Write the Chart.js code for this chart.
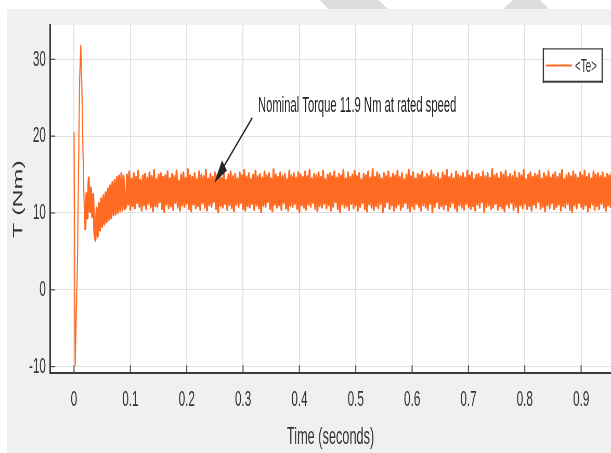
<!DOCTYPE html>
<html>
<head>
<meta charset="utf-8">
<title>Electromagnetic torque</title>
<script src="https://cdn.jsdelivr.net/npm/chart.js@4/dist/chart.umd.min.js"></script>
<style>
  html, body { margin: 0; padding: 0; width: 611px; height: 453px; overflow: hidden; background: #ffffff; }
  #frame { position: absolute; left: 7px; top: 9px; width: 604px; height: 444px; background: #f0f0f0; }
  .shade { position: absolute; top: 0; height: 9px; background: #dcdcdc; }
  #shadeA { left: 320px; width: 68px; clip-path: polygon(0 0, 58px 0, 68px 9px, 8px 9px); }
  #shadeB { left: 503px; width: 46px; clip-path: polygon(10px 0, 37px 0, 46px 9px, 0 9px); }
  /* the figure is drawn on a wide canvas and squeezed horizontally */
  #wrap { position: absolute; left: 0; top: 0; width: 1175px; height: 453px; transform: scaleX(0.52); transform-origin: 0 0; }
  canvas { display: block; }
</style>
</head>
<body>
<div id="frame"></div>
<div class="shade" id="shadeA"></div>
<div class="shade" id="shadeB"></div>
<div id="wrap"><canvas id="c" width="1175" height="453"></canvas></div>
<script>
// Electromagnetic torque Te of the motor, sampled every 2 ms from t = 0
const sampleStep = 0.002; // seconds
const seriesLabel = '<Te>';
const nominalTorque = 11.9; // Nm

const teStartup = [
  20.5, -9.8, -3.0, 3.2, 16.0, 27.5, 31.8, 26.0, 17.5, 11.0,
  7.8, 12.5, 9.4, 14.5, 10.2, 13.2, 9.6, 12.4, 7.4, 6.5,
  10.6, 7.0, 11.2, 7.8, 11.8, 8.3, 12.2, 8.6, 12.6, 8.9,
  13.1, 9.2, 13.5, 9.4, 13.9, 9.8, 14.2, 9.9, 14.6, 10.1,
  14.8, 10.3, 15.1, 10.4, 14.7, 10.6
];

const teSteady = [
  10.8,14.9,11.2,15.3,10.5,14.4,11.0,15.1,10.7,14.6,11.4,15.4,10.9,14.2,10.4,14.8,11.1,15.0,10.6,14.5,
  11.3,15.2,10.8,14.7,10.3,15.5,11.0,14.3,10.9,14.9,11.5,15.1,10.6,14.6,10.2,14.8,11.2,15.3,10.7,14.4,
  11.0,15.0,10.5,14.7,11.4,15.4,10.8,14.1,10.4,14.9,11.1,15.2,10.9,14.5,11.3,15.6,10.6,14.8,10.3,14.6,
  11.2,15.1,10.7,14.3,11.0,15.3,10.5,14.9,11.4,14.7,10.8,15.5,10.4,14.4,11.1,15.0,10.9,14.6,11.5,15.2,
  10.6,14.8,10.2,15.4,11.0,14.5,10.8,15.1,11.3,14.2,10.5,14.9,11.1,15.3,10.7,14.7,10.3,15.0,11.2,14.4,
  10.9,15.2,11.4,14.8,10.6,15.5,10.4,14.6,11.0,15.1,10.8,14.3,11.3,14.9,10.5,15.4,11.1,14.7,10.7,15.0,
  10.2,14.5,11.0,15.3,10.9,14.8,11.5,15.1,10.6,14.4,10.3,15.6,11.2,14.9,10.8,14.6,11.1,15.2,10.5,14.7,
  11.4,15.0,10.7,14.3,10.4,15.4,11.0,14.8,10.9,15.1,11.3,14.5,10.6,15.2,10.2,14.9,11.1,14.6,10.8,15.3,
  10.5,14.7,11.2,15.5,10.9,14.4,11.4,15.0,10.6,14.8,10.3,15.2,11.0,14.6,10.8,15.4,11.3,14.3,10.7,14.9,
  11.1,15.1,10.4,14.7,10.9,15.3,11.5,14.5,10.6,15.0,10.2,14.8,11.2,15.5,10.8,14.4,11.0,15.2,10.5,14.6,
  11.3,14.9,10.7,15.4,11.1,14.7,10.4,15.1,10.9,14.3,11.4,15.0,10.6,14.8,10.3,15.3,11.2,14.5,10.8,15.6,
  10.5,14.6,11.0,15.2,10.7,14.9,11.3,14.4,10.2,15.1,10.9,14.7,11.5,15.3,10.6,14.5,11.1,15.0,10.4,14.8,
  10.8,15.4,11.2,14.6,10.5,15.1,10.9,14.3,11.4,14.9,10.7,15.5,10.3,14.7,11.0,15.2,10.6,14.4,11.3,15.0,
  10.9,14.8,10.4,15.3,11.1,14.5,10.8,15.0,10.5,14.7,11.3,15.4,10.2,14.9,10.9,14.6,11.5,15.1,10.7,14.3,
  11.0,15.2,10.6,14.8,11.2,15.5,10.4,14.6,10.9,15.0,11.4,14.4,10.7,15.3,10.3,14.9,11.1,14.7,10.8,15.1,
  10.5,14.5,11.3,15.4,10.9,14.8,10.6,15.2,11.0,14.3,10.4,14.9,11.2,15.0,10.8,14.6,11.5,15.3,10.2,14.7,
  10.9,15.1,11.1,14.5,10.6,15.6,10.8,14.8,11.3,15.0,10.5,14.4,11.0,15.2,10.7,14.9,10.3,15.4,11.2,14.6,
  10.8,15.0,11.4,14.7,10.5,15.3,10.9,14.5,10.2,15.1,11.1,14.8,10.7,15.5,11.3,14.3,10.6,14.9,11.0,15.2,
  10.4,14.6,11.2,15.0,10.8,14.8,11.5,15.4,10.6,14.4,10.9,15.1,10.3,14.7,11.1,15.3,10.7,14.5,11.4,14.9,
  10.6,15.2,10.9,14.6,11.2,15.0,10.4,15.5,11.0,14.3,10.8,14.8,11.3,15.1,10.5,14.7,10.2,15.3,11.1,14.9,
  10.7,14.5,11.4,15.2,10.9,14.8,10.6,15.4,11.1,14.6,10.3,15.0,10.8,14.4,11.2,15.3,10.5,14.9,11.0,15.1,
  10.6,14.7,11.3,15.2,10.8,14.5,10.4,15.0,11.1,14.8,10.9,15.3
];

const xTicks = [0, 0.1, 0.2, 0.3, 0.4, 0.5, 0.6, 0.7, 0.8, 0.9];
const yTicks = [-10, 0, 10, 20, 30];

const teValues = teStartup.concat(teSteady);
const points = teValues.map((v, i) => ({ x: +(i * sampleStep).toFixed(3), y: v }));

const FONT = "'Liberation Sans', Arial, Helvetica, sans-serif";
const TEXT = '#333333';
const ORANGE = '#ff6a22';

// white plotting area
const plotBackground = {
  id: 'plotBackground',
  beforeDraw(chart) {
    const { ctx, chartArea: a } = chart;
    ctx.save();
    ctx.fillStyle = '#ffffff';
    ctx.fillRect(a.left, a.top, a.right - a.left, a.bottom - a.top);
    ctx.restore();
  }
};

// short tick marks pointing into the plot
const innerTicks = {
  id: 'innerTicks',
  beforeDatasetsDraw(chart) {
    const { ctx, chartArea: a, scales: { x, y } } = chart;
    ctx.save();
    ctx.strokeStyle = '#4a4a4a';
    ctx.lineWidth = 2;
    x.ticks.forEach(t => {
      const px = x.getPixelForValue(t.value);
      ctx.beginPath(); ctx.moveTo(px, a.bottom); ctx.lineTo(px, a.bottom - 8); ctx.stroke();
    });
    ctx.lineWidth = 1.2;
    y.ticks.forEach(t => {
      const py = y.getPixelForValue(t.value);
      ctx.beginPath(); ctx.moveTo(a.left, py); ctx.lineTo(a.left + 10, py); ctx.stroke();
    });
    ctx.restore();
  }
};

// text note with an arrow pointing at the steady-state torque
const torqueNote = {
  id: 'torqueNote',
  afterDatasetsDraw(chart, args, o) {
    const { ctx, scales: { x, y } } = chart;
    ctx.save();
    ctx.fillStyle = o.color;
    ctx.strokeStyle = o.color;
    ctx.font = o.font;
    ctx.textAlign = 'left';
    ctx.textBaseline = 'alphabetic';
    ctx.fillText(o.text, x.getPixelForValue(o.textAt.x), y.getPixelForValue(o.textAt.y));
    const x0 = x.getPixelForValue(o.from.x), y0 = y.getPixelForValue(o.from.y);
    const x1 = x.getPixelForValue(o.to.x), y1 = y.getPixelForValue(o.to.y);
    const ang = Math.atan2(y1 - y0, x1 - x0);
    const c = Math.cos(ang), s = Math.sin(ang);
    ctx.lineWidth = 2.2;
    ctx.beginPath();
    ctx.moveTo(x0, y0);
    ctx.lineTo(x1 - c * o.head * 0.7, y1 - s * o.head * 0.7);
    ctx.stroke();
    ctx.beginPath();
    ctx.moveTo(x1, y1);
    ctx.lineTo(x1 - c * o.head - s * o.halfWidth, y1 - s * o.head + c * o.halfWidth);
    ctx.lineTo(x1 - c * o.head + s * o.halfWidth, y1 - s * o.head - c * o.halfWidth);
    ctx.closePath();
    ctx.fill();
    ctx.restore();
  }
};

// boxed legend in the upper right corner of the plot
const cornerLegend = {
  id: 'cornerLegend',
  afterDraw(chart, args, o) {
    const { ctx, chartArea: a } = chart;
    const ds = chart.data.datasets[0];
    const right = a.right - o.right, left = right - o.width;
    const top = a.top + o.top, bottom = top + o.height;
    ctx.save();
    ctx.fillStyle = '#ffffff';
    ctx.fillRect(left, top, right - left, bottom - top);
    ctx.fillStyle = '#3a3a3a';
    ctx.fillRect(left, top, right - left, 1.2);
    ctx.fillRect(left, bottom - 2, right - left, 2);
    ctx.fillRect(left, top, 2.4, bottom - top);
    ctx.fillRect(right - 2.4, top, 2.4, bottom - top);
    const midY = (top + bottom) / 2;
    ctx.strokeStyle = ds.borderColor;
    ctx.lineWidth = 2;
    ctx.beginPath(); ctx.moveTo(left + 6, midY); ctx.lineTo(left + 56, midY); ctx.stroke();
    ctx.fillStyle = TEXT;
    ctx.font = o.font;
    ctx.textAlign = 'left';
    ctx.textBaseline = 'middle';
    ctx.fillText(ds.label, left + 62, midY + 1);
    ctx.restore();
  }
};

new Chart(document.getElementById('c'), {
  type: 'line',
  data: {
    datasets: [{
      label: seriesLabel,
      data: points,
      borderColor: ORANGE,
      borderWidth: 2.2,
      borderJoinStyle: 'round',
      pointRadius: 0,
      tension: 0,
      fill: false,
      // start-up swings are thin strokes; the ripple band is drawn a little heavier
      segment: { borderWidth: c => (c.p0DataIndex >= 10 ? 3.8 : 2.2) }
    }]
  },
  options: {
    responsive: false,
    devicePixelRatio: 1,
    animation: false,
    parsing: false,
    events: [],
    layout: { padding: { left: 0, right: 0, top: 25, bottom: 0 } },
    scales: {
      x: {
        type: 'linear',
        min: -0.0426,
        max: 0.953,
        afterBuildTicks: s => { s.ticks = xTicks.map(v => ({ value: v })); },
        afterFit: s => { s.height = 79.7; s.paddingLeft = 0; s.paddingRight = 0; },
        ticks: {
          autoSkip: false, maxRotation: 0, padding: 13,
          color: TEXT, font: { family: FONT, size: 22.5 },
          callback: v => String(v)
        },
        grid: { color: '#e1e1e1', lineWidth: 2, drawTicks: false },
        border: { color: '#3a3a3a', width: 2 },
        title: {
          display: true, text: 'Time (seconds)', color: TEXT,
          font: { family: FONT, size: 24.5 }, padding: { top: 0, bottom: 1 }
        }
      },
      y: {
        type: 'linear',
        min: -10.87,
        max: 34.47,
        afterBuildTicks: s => { s.ticks = yTicks.map(v => ({ value: v })); },
        afterFit: s => { s.width = 96.2; s.paddingTop = 0; s.paddingBottom = 0; },
        ticks: {
          autoSkip: false, padding: 8,
          color: TEXT, font: { family: FONT, size: 22.5 },
          callback: v => String(v)
        },
        grid: { color: '#e1e1e1', lineWidth: 1, drawTicks: false },
        border: { color: '#3a3a3a', width: 3 },
        title: {
          display: true, text: 'T (Nm)', color: TEXT,
          font: { family: FONT, size: 25 }, padding: { top: 21, bottom: 0 }
        }
      }
    },
    plugins: {
      legend: { display: false },
      tooltip: { enabled: false },
      torqueNote: {
        text: 'Nominal Torque ' + nominalTorque + ' Nm at rated speed',
        font: '21.6px ' + FONT,
        color: '#262626',
        textAt: { x: 0.3265, y: 23.1 },
        from: { x: 0.3164, y: 22.4 },
        to: { x: 0.249, y: 13.95 },
        head: 26,
        halfWidth: 7
      },
      cornerLegend: { right: 15.8, width: 115.5, top: 23.3, height: 34.4, font: '19px ' + FONT }
    }
  },
  plugins: [plotBackground, innerTicks, torqueNote, cornerLegend]
});
</script>
</body>
</html>
